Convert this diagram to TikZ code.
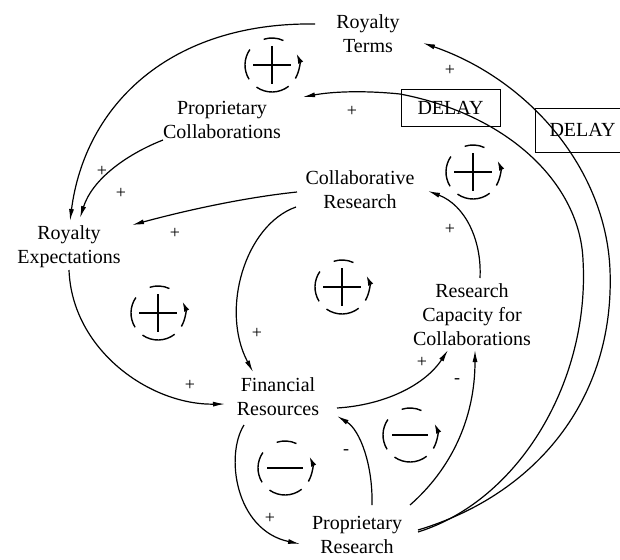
\documentclass[tikz,border=0pt]{standalone}
\usepackage{fontspec}
\setmainfont{Liberation Serif}
\usetikzlibrary{arrows.meta,calc}

\begin{document}
\begin{tikzpicture}[x=1pt,y=-1pt,
  var/.style={align=center,font=\fontsize{20}{24}\selectfont,inner sep=0pt},
  link/.style={line width=1.2pt,-{Latex[length=12pt,width=5pt]}},
  sgn/.style={font=\fontsize{18}{18}\selectfont,inner sep=0pt},
  delaybox/.style={draw,line width=1pt,font=\fontsize{20}{24}\selectfont,
    minimum width=99pt,minimum height=36pt,inner sep=0pt},
  ring/.style={line width=1.4pt},
  ringtip/.style={line width=1.4pt,-{Latex[length=10pt,width=5.5pt]}},
  bar/.style={line width=2.6pt},
  loopbase/.pic={\begin{scope}[yscale=-1]
     \draw[ring] (65:27) arc (65:108:27);
     \draw[ring] (145:27) arc (145:212:27);
     \draw[ring] (235:27) arc (235:308:27);
     \draw[ringtip] (330:27) arc (330:385:27);
   \end{scope}},
  loopplus/.pic={\pic{loopbase}; \draw[bar] (-19,0) -- (19,0); \draw[bar] (0,-19) -- (0,19);},
  loopminus/.pic={\pic{loopbase}; \draw[bar] (-18,0) -- (18,0);}
]
\useasboundingbox (0,0) rectangle (620,559);
\clip (0,0) rectangle (620,559);

% variables
\node[var] (rt) at (368,34) {Royalty\\Terms};
\node[var] (pc) at (222,120) {Proprietary\\Collaborations};
\node[var] (cr) at (360,190) {Collaborative\\Research};
\node[var] (re) at (69,247) {Royalty\\Expectations};
\node[var] (rc) at (472,315) {Research\\Capacity for\\Collaborations};
\node[var] (fr) at (278,397) {Financial\\Resources};
\node[var] (pr) at (357,535) {Proprietary\\Research};

% delays
\node[delaybox] (d1) at (450.5,108) {DELAY};
\node[delaybox,minimum width=95pt,minimum height=44pt] (d2) at (582.5,130) {DELAY};

% causal links
\draw[link] ($(rt)+(-53,-10)$) .. controls (170,22) and (85,105) .. ($(re)+(1,-26)$);
\draw[link] ($(pc)+(-59,20)$) .. controls (125,155) and (92,180) .. ($(re)+(11,-29)$);
\draw[link] ($(cr)+(-63,2)$) .. controls (240,198) and (180,212) .. ($(re)+(63,-22)$);
\draw[link] ($(cr)+(-64,17)$) .. controls (245,225) and (220,310) .. ($(fr)+(-25,-25)$);
\draw[link] ($(re)+(0,23)$) .. controls (72,350) and (150,405) .. ($(fr)+(-53,7)$);
\draw[link] ($(fr)+(59,11)$) .. controls (385,405) and (425,385) .. ($(rc)+(-24,35)$);
\draw[link] ($(pr)+(53,-30)$) .. controls (450,470) and (475,420) .. ($(rc)+(3,35)$);
\draw[link] ($(pr)+(15,-30)$) .. controls (373,465) and (360,430) .. ($(fr)+(59,19)$);
\draw[link] ($(fr)+(-34,28)$) .. controls (225,455) and (235,530) .. ($(pr)+(-57,9)$);
\draw[link] ($(rc)+(8,-37)$) .. controls (482,240) and (465,205) .. ($(cr)+(68,1)$);
\draw[link] ($(pr)+(61,-5)$) .. controls (535,495) and (615,400) .. (610,270)
  .. controls (606,170) and (530,80) .. ($(rt)+(55,9)$);
\draw[link] ($(pr)+(61,-3)$) .. controls (520,500) and (590,380) .. (583,260)
  .. controls (580,185) and (510,115) .. (400,94)
  .. controls (360,90) and (330,92) .. ($(pc)+(81,-23)$);

% polarities
\node[sgn] at (102,171) {+};
\node[sgn] at (121,193) {+};
\node[sgn] at (175,233) {+};
\node[sgn] at (257,333) {+};
\node[sgn] at (190,385) {+};
\node[sgn] at (270,518) {+};
\node[sgn] at (422,362) {+};
\node[sgn] at (457,381) {-};
\node[sgn] at (346,452) {-};
\node[sgn] at (450,229) {+};
\node[sgn] at (352,111) {+};
\node[sgn] at (450,70) {+};

% loop polarities
\pic at (272,65) {loopplus};
\pic at (473,172) {loopplus};
\pic at (342,287) {loopplus};
\pic at (158,313) {loopplus};
\pic at (285,468) {loopminus};
\pic at (410,435) {loopminus};
\end{tikzpicture}
\end{document}
